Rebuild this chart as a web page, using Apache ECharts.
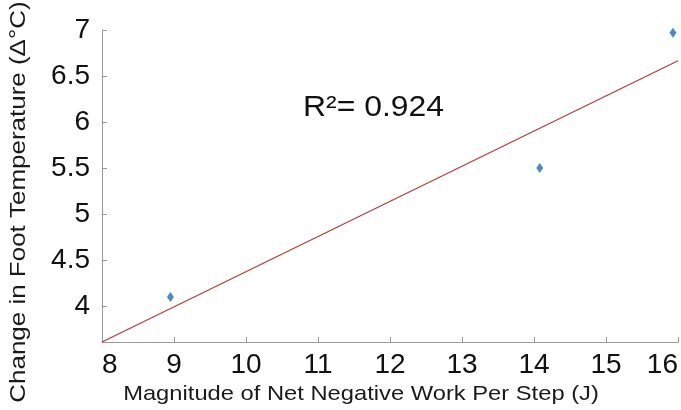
<!DOCTYPE html>
<html>
<head>
<meta charset="utf-8">
<script src="https://cdn.jsdelivr.net/npm/echarts@6/dist/echarts.min.js"></script>
<style>html,body{margin:0;padding:0;background:#fff}#c{width:681px;height:410px}</style>
</head>
<body>
<div id="c"></div>
<script>
var workJ = [8.95, 14.08, 15.93];
var deltaTemp = [4.10, 5.50, 6.97];
var fitX = [8, 16];
var fitY = [3.61, 6.665];
var yTicks = [4, 4.5, 5, 5.5, 6, 6.5, 7];
var xTicks = [8, 9, 10, 11, 12, 13, 14, 15, 16];
var r2Label = 'R\u00B2= 0.924';
var xName = 'Magnitude of Net Negative Work Per Step (J)';
var yName = 'Change in Foot Temperature (\u0394\u00B0C)';

var chart = echarts.init(document.getElementById('c'), null, {renderer: 'canvas'});
var font = 'Liberation Sans, Arial, sans-serif';
chart.setOption({
  animation: false,
  grid: {left: 102, right: 3, top: 30, bottom: 68, containLabel: false, outerBoundsMode: 'none'},
  xAxis: {
    type: 'value', min: 8, max: 16, interval: 1,
    axisLine: {show: true, lineStyle: {color: '#999', width: 1}},
    axisTick: {show: true, inside: true, length: 5, lineStyle: {color: '#999'}},
    axisLabel: {fontFamily: font, fontSize: 28, color: '#111', margin: 9,
      alignMinLabel: 'left', alignMaxLabel: 'right',
      formatter: function(v){ return xTicks.indexOf(v) >= 0 ? String(v) : ''; }},
    splitLine: {show: false}
  },
  yAxis: {
    type: 'value', min: 3.61, max: 7,
    axisLine: {show: true, lineStyle: {color: '#999', width: 1}},
    axisTick: {show: true, inside: true, length: 5, lineStyle: {color: '#999'}, customValues: yTicks},
    axisLabel: {fontFamily: font, fontSize: 28, color: '#111', margin: 12, customValues: yTicks,
      formatter: function(v){ return String(v); }},
    splitLine: {show: false}
  },
  graphic: [{
    type: 'text', x: 303, y: 108, scaleX: 1.1,
    style: {text: r2Label, fontFamily: font, fontSize: 29, fill: '#111', textVerticalAlign: 'middle'}
  }, {
    type: 'text', x: 361, y: 394, scaleX: 1.13,
    style: {text: xName, fontFamily: font, fontSize: 21, fill: '#1a1a1a', textAlign: 'center', textVerticalAlign: 'middle'}
  }, {
    type: 'text', x: 19, y: 202, rotation: Math.PI / 2, scaleX: 1.18,
    style: {text: yName, fontFamily: font, fontSize: 22, fill: '#1a1a1a', textAlign: 'center', textVerticalAlign: 'middle'}
  }],
  series: [{
    type: 'line',
    data: fitX.map(function(x, i){ return [x, fitY[i]]; }),
    showSymbol: false, symbol: 'none',
    lineStyle: {color: '#b5393b', width: 1.2},
    z: 2
  }, {
    type: 'scatter',
    data: workJ.map(function(x, i){ return [x, deltaTemp[i]]; }),
    symbol: 'diamond', symbolSize: [7, 10],
    itemStyle: {color: '#1f6db4'},
    z: 3
  }]
});
</script>
</body>
</html>
